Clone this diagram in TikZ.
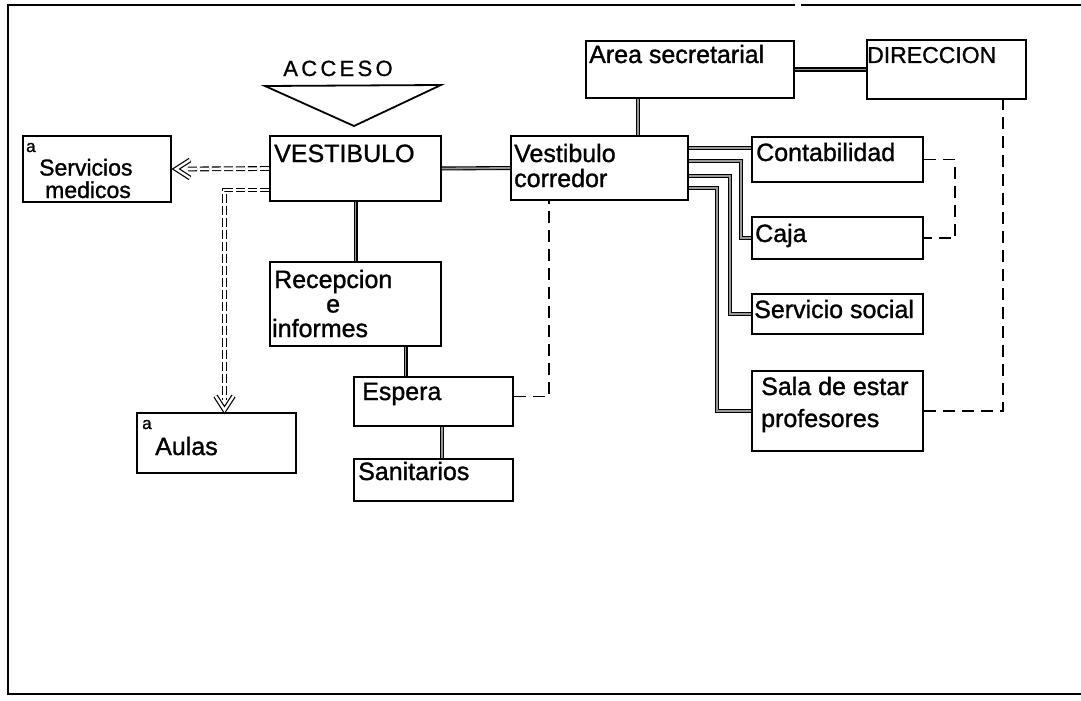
\documentclass[tikz,border=0pt]{standalone}
\usepackage{fontspec}
\setmainfont{Liberation Sans}[FakeBold=1.2]
\newfontfamily\spacedfont{Liberation Sans}[LetterSpace=15,FakeBold=0.8]
\usetikzlibrary{arrows.meta}
\newcommand\mybox[5]{\node[box,minimum width=#4pt,minimum height=#5pt] (#1) at (#2,#3) {};}
\begin{document}
\begin{tikzpicture}[x=1pt,y=-1pt,
  box/.style={draw, line width=2pt, inner sep=0pt, anchor=north west},
  lbl/.style={anchor=base west, inner sep=0pt, align=left, font=\fontsize{25}{25}\selectfont},
  link/.style={draw, line width=1.1pt, double=black!40, double distance=1.8pt},
  dlink/.style={draw, line width=1.1pt, double=white, double distance=2.6pt, dash pattern=on 9pt off 3pt},
  chev/.style={draw, line width=1.2pt, double=white, double distance=2.4pt, line join=miter},
  dsh/.style={draw, line width=1.8pt, dash pattern=on 12pt off 7pt},
  frame/.style={draw, line width=2pt}]
\useasboundingbox (0,0) rectangle (1081,701);
\fill[white] (0,0) rectangle (1081,701);
% frame
\draw[frame] (795,5) -- (8,5) -- (8,694) -- (1081,694);
\draw[frame] (801,5) -- (1081,5);
% boxes
\mybox{serv}{22}{135}{148}{66}
\mybox{vest}{269}{135}{171}{65}
\mybox{corr}{510}{135}{177}{64}
\mybox{area}{585}{40}{208}{57}
\mybox{dir}{866}{39}{159}{59}
\mybox{cont}{751}{136}{171}{45}
\mybox{caja}{751}{216}{171}{42}
\mybox{ssoc}{751}{293}{171}{40}
\mybox{sala}{751}{370}{171}{80}
\mybox{recep}{269}{261}{171}{84}
\mybox{esp}{353}{376}{159}{49}
\mybox{sani}{353}{458}{159}{42}
\mybox{aulas}{136}{412}{159}{60}
% access triangle
\coordinate (t1) at (265,86);
\coordinate (t2) at (441,85);
\coordinate (t3) at (354,126);
\draw[line width=1.8pt, line join=miter] (t1) -- (t2) -- (t3) -- cycle;
\node[anchor=base, inner sep=0pt, font=\spacedfont\fontsize{22}{22}\selectfont] (accT) at (338,76) {ACCESO};
% labels (base anchor = baseline of the last line)
\node[anchor=base west, inner sep=0pt, font=\fontsize{17}{17}\selectfont] (servA) at (26,152) {a};
\node[lbl, font=\fontsize{23}{22.5}\selectfont] (servT) at (39,198) {Servicios\\\hspace*{6pt}medicos};
\node[lbl] (vestT) at (274,162) {VESTIBULO};
\node[lbl] (corrT) at (514,187) {Vestibulo\\corredor};
\node[lbl] (areaT) at (589,63) {Area secretarial};
\node[lbl, font=\fontsize{23}{23}\selectfont] (dirT) at (867,63) {DIRECCION};
\node[lbl] (contT) at (756,161) {Contabilidad};
\node[lbl] (cajaT) at (755,242) {Caja};
\node[lbl] (ssocT) at (754,318) {Servicio social};
\node[lbl, font=\fontsize{25}{32}\selectfont] (salaT) at (761,427) {Sala de estar\\profesores};
\node[lbl, font=\fontsize{25}{24.5}\selectfont] (recepT) at (272,337) {\hspace*{2pt}Recepcion\\\hspace*{54pt}e\\informes};
\node[lbl] (espT) at (362,400) {Espera};
\node[lbl] (saniT) at (358,480) {Sanitarios};
\node[anchor=base west, inner sep=0pt, font=\fontsize{17}{17}\selectfont] (aulasA) at (142,429) {a};
\node[lbl] (aulasT) at (155,455) {Aulas};
% connector end points
\coordinate (va) at ([yshift=12pt]vest.south west);
\coordinate (aa) at ([xshift=8pt]aulas.north);
\coordinate (re) at ([xshift=50pt]recep.south);
\coordinate (es) at ([xshift=8.5pt]esp.south);
\coordinate (ee) at ([yshift=5pt]esp.east);
\coordinate (cs) at ([xshift=-50.5pt]corr.south);
\coordinate (cn) at ([xshift=38.5pt]corr.north);
\coordinate (k1) at ([yshift=-13pt]corr.north east);
\coordinate (k2) at ([yshift=-26pt]corr.north east);
\coordinate (k3) at ([yshift=-41pt]corr.north east);
\coordinate (k4) at ([yshift=-53pt]corr.north east);
\coordinate (b2) at ([xshift=-10pt]caja.west);
\coordinate (b3) at ([xshift=-21pt]ssoc.west);
\coordinate (b4) at ([xshift=-34pt]sala.west);
\coordinate (cc) at ([xshift=31pt]caja.east);
\coordinate (dd) at ([xshift=-24pt]dir.south east);
\coordinate (sa) at ([xshift=4pt]serv.east);
\coordinate (au) at ([yshift=2pt]aa);
% solid double links
\path[link] (vest.east) -- (corr.west);
\path[link] (vest.south) -- (recep.north);
\path[link] (re) -- (re |- esp.north);
\path[link] (es) -- (es |- sani.north);
\path[link] (cn) -- (cn |- area.south);
\path[link] (area.east) -- (dir.west);
\path[link] (k1) -- (k1 -| cont.west);
\path[link] (k2) -| (b2) -- (caja.west);
\path[link] (k3) -| (b3) -- (ssoc.west);
\path[link] (k4) -| (b4) -- (sala.west);
% dashed double links with open chevron heads
\path[dlink] (vest.west) -- ([xshift=10pt]sa);
\path[chev] ([shift={(14pt,9pt)}]sa) -- (sa) -- ([shift={(14pt,-9pt)}]sa);
\path[dlink] (va) -| ([yshift=10pt]au);
\path[chev] ([shift={(-9pt,14pt)}]au) -- (au) -- ([shift={(9pt,14pt)}]au);
% dashed links
\path[dsh] (ee) -| (cs);
\path[dsh] (cont.east) -| (cc) -- (caja.east);
\path[dsh] (sala.east) -| (dd);
\end{tikzpicture}
\end{document}
